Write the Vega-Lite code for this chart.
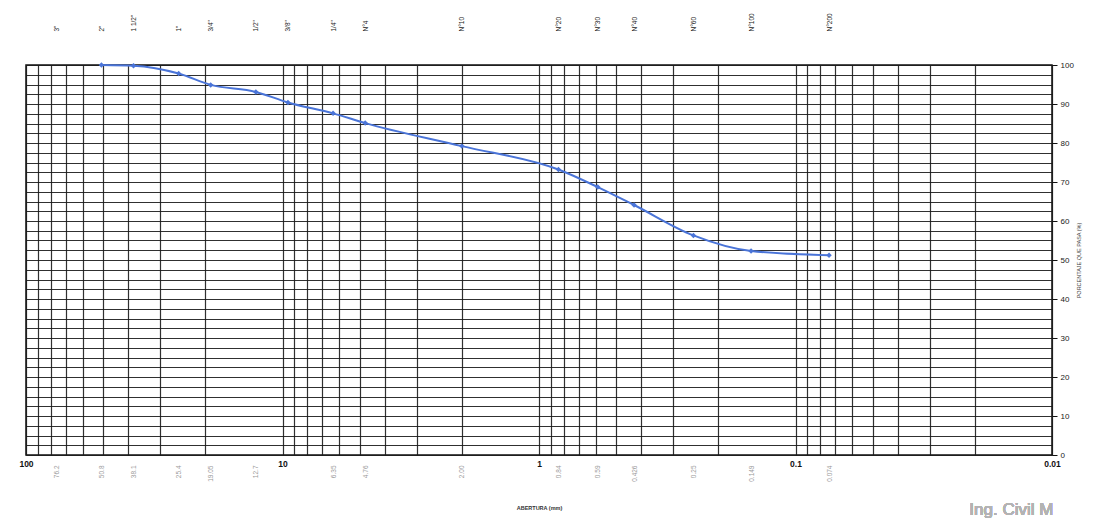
{
  "$schema": "https://vega.github.io/schema/vega-lite/v6.json",
  "width": 1026,
  "height": 390,
  "autosize": {"type": "none"},
  "padding": {"left": 26, "top": 65, "right": 44, "bottom": 64},
  "background": "white",
  "config": {"font": "Liberation Sans", "view": {"stroke": "#111", "strokeWidth": 1.5}},
  "data": {
    "values": [
      {"tamiz": "2\"", "abertura": 50.8, "pasa": 100},
      {"tamiz": "1 1/2\"", "abertura": 38.1, "pasa": 99.8},
      {"tamiz": "1\"", "abertura": 25.4, "pasa": 97.8},
      {"tamiz": "3/4\"", "abertura": 19.05, "pasa": 94.9},
      {"tamiz": "1/2\"", "abertura": 12.7, "pasa": 93.1},
      {"tamiz": "3/8\"", "abertura": 9.525, "pasa": 90.4},
      {"tamiz": "1/4\"", "abertura": 6.35, "pasa": 87.6},
      {"tamiz": "N°4", "abertura": 4.76, "pasa": 85.1},
      {"tamiz": "N°10", "abertura": 2.0, "pasa": 79.2},
      {"tamiz": "N°20", "abertura": 0.84, "pasa": 73.2},
      {"tamiz": "N°30", "abertura": 0.59, "pasa": 68.7},
      {"tamiz": "N°40", "abertura": 0.426, "pasa": 64.1},
      {"tamiz": "N°60", "abertura": 0.25, "pasa": 56.3},
      {"tamiz": "N°100", "abertura": 0.149, "pasa": 52.3},
      {"tamiz": "N°200", "abertura": 0.074, "pasa": 51.2}
    ]
  },
  "layer": [
    {
      "mark": {"type": "line", "color": "#4a74d8", "strokeWidth": 2, "interpolate": "monotone"},
      "encoding": {
        "x": {
          "field": "abertura", "type": "quantitative",
          "scale": {"type": "log", "domain": [0.01, 100], "reverse": true, "nice": false},
          "axis": {
            "orient": "bottom",
            "values": [100, 90, 80, 70, 60, 50, 40, 30, 20, 10, 9, 8, 7, 6, 5, 4, 3, 2, 1, 0.9, 0.8, 0.7, 0.6, 0.5, 0.4, 0.3, 0.2, 0.1, 0.09, 0.08, 0.07, 0.06, 0.05, 0.04, 0.03, 0.02, 0.01],
            "labelExpr": "datum.value == 100 ? '100' : datum.value == 10 ? '10' : datum.value == 1 ? '1' : datum.value == 0.1 ? '0.1' : datum.value == 0.01 ? '0.01' : ''",
            "grid": true, "gridColor": "#1a1a1a", "gridWidth": 1.2, "gridOpacity": 0.9,
            "ticks": false, "domain": false,
            "labelFontSize": 8.5, "labelFontWeight": "bold", "labelColor": "#111",
            "labelPadding": 4, "labelAngle": 0, "labelFlush": false, "labelOverlap": false,
            "title": null
          }
        },
        "y": {
          "field": "pasa", "type": "quantitative",
          "scale": {"domain": [0, 100], "nice": false, "zero": true},
          "axis": {
            "orient": "right",
            "values": [0, 2.5, 5, 7.5, 10, 12.5, 15, 17.5, 20, 22.5, 25, 27.5, 30, 32.5, 35, 37.5, 40, 42.5, 45, 47.5, 50, 52.5, 55, 57.5, 60, 62.5, 65, 67.5, 70, 72.5, 75, 77.5, 80, 82.5, 85, 87.5, 90, 92.5, 95, 97.5, 100],
            "labelExpr": "datum.value % 10 === 0 ? datum.label : ''",
            "grid": true, "gridColor": "#1a1a1a", "gridWidth": 1.2, "gridOpacity": 0.9,
            "ticks": true, "tickSize": 5, "tickColor": "#111",
            "tickOpacity": {"condition": {"test": "datum.value % 10 === 0", "value": 1}, "value": 0},
            "domain": false,
            "labelFontSize": 8, "labelColor": "#222", "labelPadding": 3, "labelFlush": false, "labelOverlap": false,
            "title": "PORCENTAJE QUE PASA (%)", "titleAngle": 270, "titleFontSize": 5.5,
            "titleFontWeight": "normal", "titleColor": "#444", "titlePadding": 8
          }
        }
      }
    },
    {
      "mark": {"type": "point", "shape": "diamond", "filled": true, "color": "#4a74d8", "size": 30, "opacity": 1},
      "encoding": {
        "x": {
          "field": "abertura", "type": "quantitative",
          "axis": {
            "orient": "top",
            "values": [76.2, 50.8, 38.1, 25.4, 19.05, 12.7, 9.525, 6.35, 4.76, 2.0, 0.84, 0.59, 0.426, 0.25, 0.149, 0.074],
            "labelExpr": "['3\"','2\"','1 1/2\"','1\"','3/4\"','1/2\"','3/8\"','1/4\"','N°4','N°10','N°20','N°30','N°40','N°60','N°100','N°200'][indexof([76.2, 50.8, 38.1, 25.4, 19.05, 12.7, 9.525, 6.35, 4.76, 2.0, 0.84, 0.59, 0.426, 0.25, 0.149, 0.074], datum.value)]",
            "labelAngle": 270, "labelAlign": "left", "labelBaseline": "middle",
            "grid": false, "ticks": false, "domain": false,
            "labelPadding": 34, "labelFontSize": 6.5, "labelColor": "#222",
            "labelOverlap": false, "labelFlush": false, "title": null
          }
        },
        "y": {"field": "pasa", "type": "quantitative", "axis": null}
      }
    },
    {
      "mark": {"type": "point", "opacity": 0},
      "encoding": {
        "x": {
          "field": "abertura", "type": "quantitative",
          "axis": {
            "orient": "bottom", "offset": 10,
            "values": [76.2, 50.8, 38.1, 25.4, 19.05, 12.7, 6.35, 4.76, 2.0, 0.84, 0.59, 0.426, 0.25, 0.149, 0.074],
            "labelExpr": "['76.2','50.8','38.1','25.4','19.05','12.7','6.35','4.76','2.00','0.84','0.59','0.426','0.25','0.149','0.074'][indexof([76.2, 50.8, 38.1, 25.4, 19.05, 12.7, 6.35, 4.76, 2.0, 0.84, 0.59, 0.426, 0.25, 0.149, 0.074], datum.value)]",
            "labelAngle": 270, "labelAlign": "right", "labelBaseline": "middle",
            "grid": false, "ticks": false, "domain": false,
            "labelPadding": 0, "labelFontSize": 6.5, "labelColor": "#9a9a9a",
            "labelOverlap": false, "labelFlush": false,
            "title": "ABERTURA (mm)", "titleFontSize": 5.5, "titleFontWeight": "bold",
            "titleColor": "#333", "titlePadding": 24
          }
        },
        "y": {"field": "pasa", "type": "quantitative", "axis": null}
      }
    },
    {
      "mark": {"type": "text", "text": "Ing. Civil M", "align": "left", "baseline": "alphabetic", "fontSize": 17, "color": "#b3b3b3"},
      "encoding": {
        "x": {"datum": 0.021, "type": "quantitative", "axis": null},
        "y": {"datum": -15.4, "type": "quantitative", "axis": null}
      }
    }
  ],
  "resolve": {"axis": {"x": "independent", "y": "independent"}}
}
